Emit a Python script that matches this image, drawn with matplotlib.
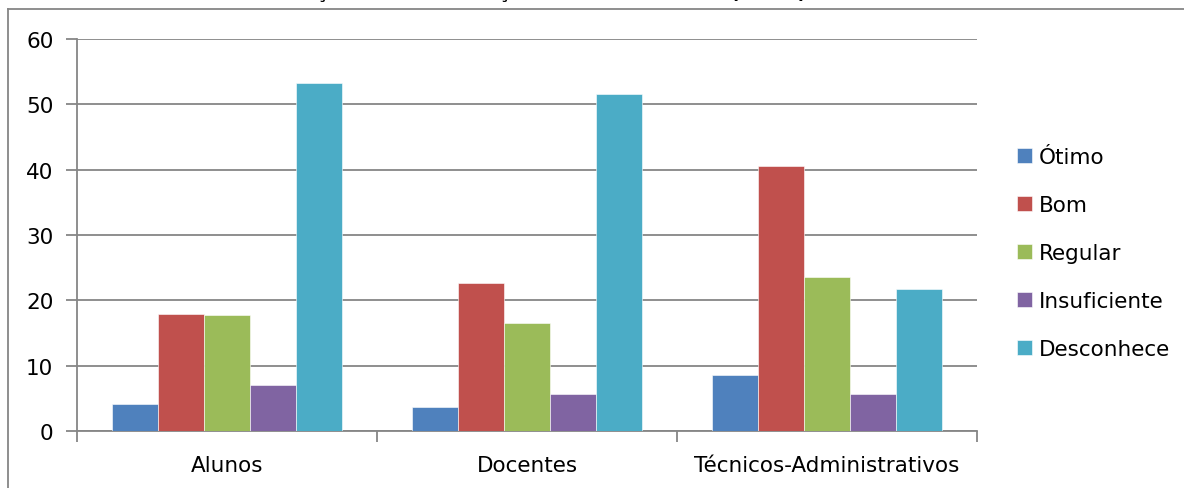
import matplotlib
matplotlib.use("Agg")
import matplotlib.pyplot as plt
import numpy as np
from matplotlib.lines import Line2D

# data
categories = ["Alunos", "Docentes", "Técnicos-Administrativos"]
series = ["Ótimo", "Bom", "Regular", "Insuficiente", "Desconhece"]
otimo = [4.1, 3.6, 8.5]
bom = [17.9, 22.7, 40.6]
regular = [17.8, 16.5, 23.6]
insuficiente = [7.1, 5.6, 5.6]
desconhece = [53.2, 51.6, 21.7]
values = [otimo, bom, regular, insuficiente, desconhece]
colors = ["#4F81BD", "#C0504D", "#9BBB59", "#8064A2", "#4BACC6"]
title = "Avaliação da Comunicação com a Sociedade (em %)"

W, H = 1184, 489
plt.rcParams["font.family"] = ["DejaVu Sans"]
fig = plt.figure(figsize=(W / 100, H / 100), dpi=100)
ax = fig.add_axes([77 / W, 1 - 432 / H, 900 / W, 392 / H])

grid_c = "#868686"
fs = 15.5
n = len(series)
bw = 0.767 / n
x = np.arange(len(categories))
for i, (name, vals) in enumerate(zip(series, values)):
    ax.bar(x - 0.767 / 2 + bw * (i + 0.5), vals, width=bw, color=colors[i],
           edgecolor="white", linewidth=0.4, label=name, zorder=3)

ax.set_xlim(-0.5, len(categories) - 0.5)
ax.set_ylim(0, 60)
ax.set_yticks(range(0, 61, 10))
ax.yaxis.grid(True, color=grid_c, linewidth=1.3, zorder=0)
ax.set_axisbelow(True)
ax.set_xticks(x)
ax.set_xticklabels(categories, fontsize=fs)
ax.set_xticks(np.arange(-0.5, len(categories)), minor=True)
ax.tick_params(axis="x", which="major", length=0, pad=17)
ax.tick_params(axis="x", which="minor", length=8, width=1.3, color=grid_c)
ax.tick_params(axis="y", length=8, width=1.3, color=grid_c, labelsize=fs, pad=9)
for s in ["top", "right"]:
    ax.spines[s].set_visible(False)
for s in ["left", "bottom"]:
    ax.spines[s].set_color(grid_c)
    ax.spines[s].set_linewidth(1.3)

leg = ax.legend(loc="center left", bbox_to_anchor=(1.032, 0.454), frameon=False,
                fontsize=fs, handlelength=0.7, handleheight=0.7,
                handletextpad=0.35, labelspacing=1.31, borderpad=0)

# title, mostly cut off at the top edge (only descenders show)
fig.text(251 / W, 1 + 1.5 / H, title, ha="left", va="baseline",
         fontsize=13.7, fontweight="bold")

# outer frame (top and left parts visible)
fig.add_artist(Line2D([8 / W, 1], [1 - 10 / H, 1 - 10 / H], color=grid_c, lw=1.3))
fig.add_artist(Line2D([8 / W, 8 / W], [0, 1 - 10 / H], color=grid_c, lw=1.3))

fig.savefig("out.png", dpi=100)
